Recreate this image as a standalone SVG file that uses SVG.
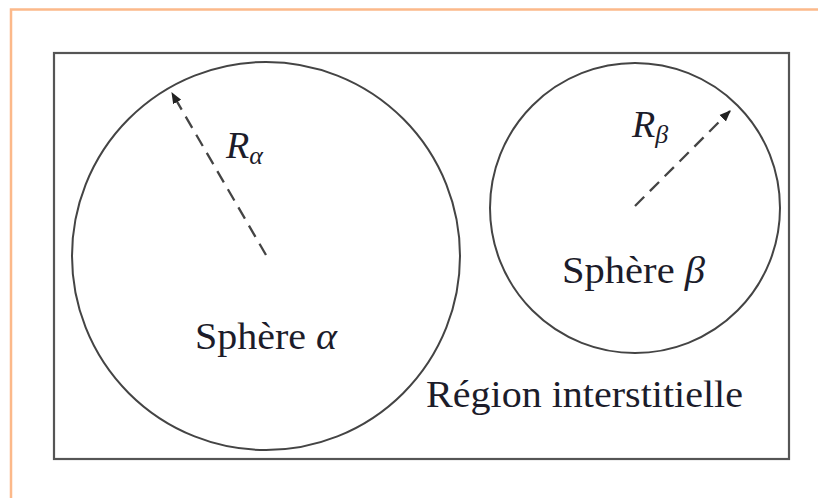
<svg xmlns="http://www.w3.org/2000/svg" width="818" height="498" viewBox="0 0 818 498">
<defs>
<style>
.frame{fill:none;stroke:#fcb98a;stroke-width:2.5}
.box{fill:none;stroke:#555;stroke-width:2.2}
.sphere{fill:none;stroke:#444;stroke-width:2}
.radius{fill:none;stroke:#444;stroke-width:2.3;stroke-dasharray:13 8}
.lbl{font-family:"Liberation Serif","DejaVu Serif",serif;font-size:38px;fill:#1c1c2a}
.math{font-style:italic}
.sub{font-size:26px;font-style:italic}
</style>
<marker id="arr" viewBox="0 0 10 10" refX="9" refY="5" markerWidth="5" markerHeight="5" orient="auto" markerUnits="strokeWidth">
<path d="M0,1 L10,5 L0,9 z" fill="#222"/>
</marker>
</defs>
<rect width="818" height="498" fill="#fff"/>
<path class="frame" d="M11,498 V9.5 H818"/>
<g id="region">
<rect class="box" x="54" y="53" width="735" height="406"/>
<text class="lbl" x="426" y="407" textLength="317" lengthAdjust="spacingAndGlyphs">Région interstitielle</text>
</g>
<g id="sphere-alpha">
<circle class="sphere" cx="266" cy="256" r="194"/>
<text class="lbl" x="195" y="349" textLength="142" lengthAdjust="spacingAndGlyphs">Sphère <tspan class="math">α</tspan></text>
<text class="lbl" x="226" y="158"><tspan class="math">R</tspan><tspan class="sub" dy="6">α</tspan></text>
</g>
<g id="sphere-beta">
<circle class="sphere" cx="635" cy="208" r="145"/>
<text class="lbl" x="562" y="283" textLength="143" lengthAdjust="spacingAndGlyphs">Sphère <tspan class="math">β</tspan></text>
<text class="lbl" x="632" y="137"><tspan class="math">R</tspan><tspan class="sub" dy="6">β</tspan></text>
</g>
<g id="connectors">
<line class="radius" x1="266" y1="255" x2="172" y2="93" marker-end="url(#arr)"/>
<line class="radius" x1="635" y1="206" x2="730" y2="111" marker-end="url(#arr)"/>
</g>
</svg>
